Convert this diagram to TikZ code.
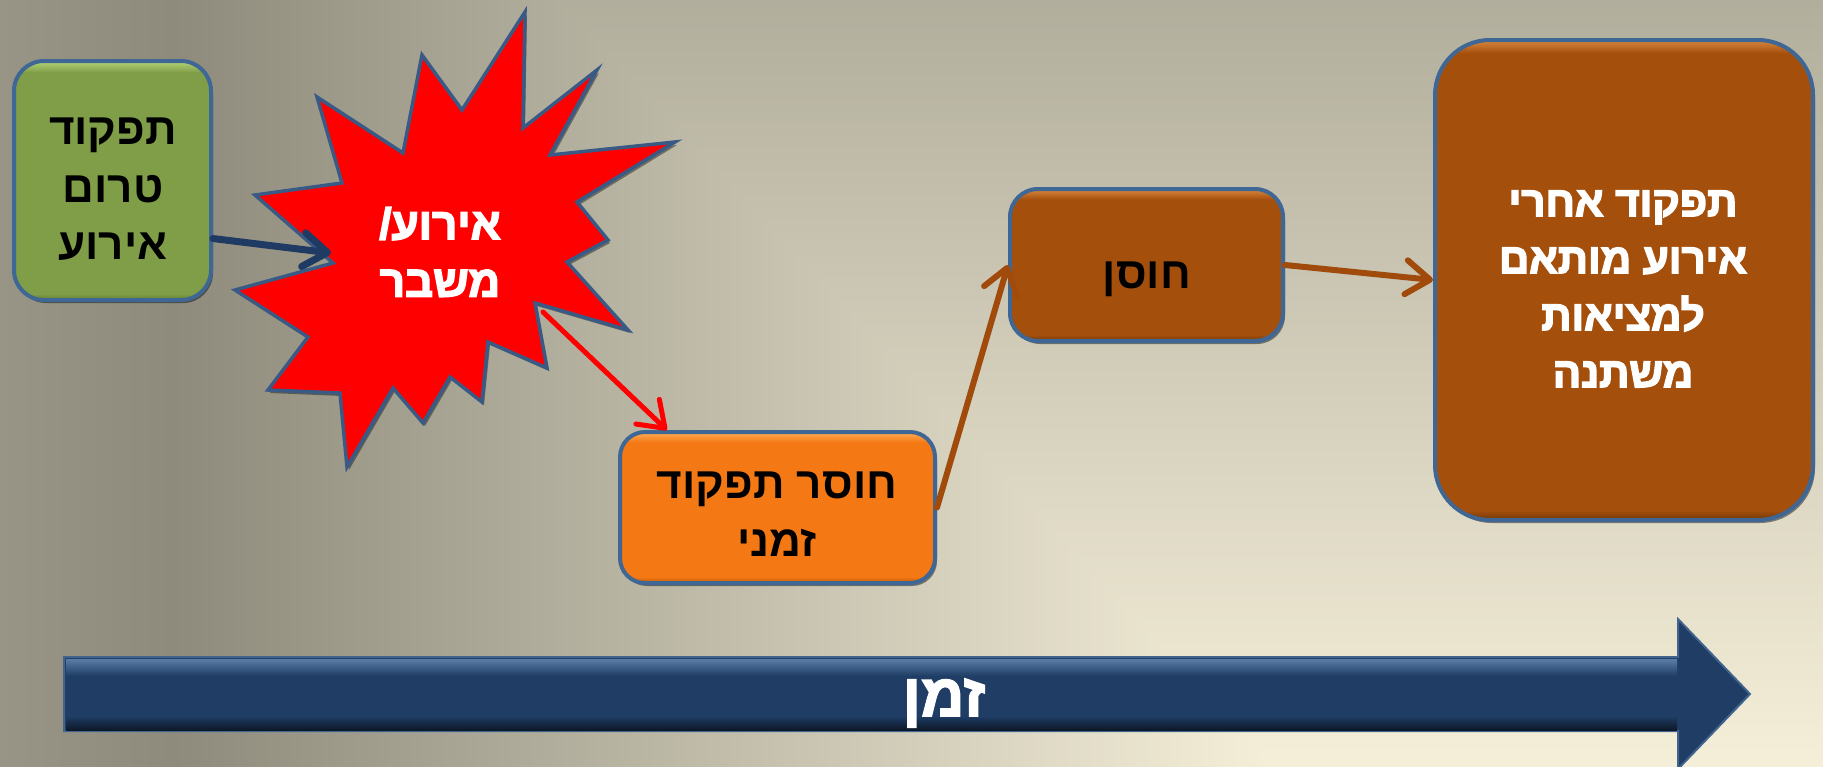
\documentclass[tikz,border=0pt]{standalone}
\usepackage{fontspec}
\newfontfamily\hebfont[Script=Hebrew]{Liberation Sans Bold}
\TeXXeTstate=1
\usetikzlibrary{arrows.meta,calc,shadows}
\newcommand\heb[1]{\beginR#1\endR}
\definecolor{bgD}{HTML}{8E8B7C}
\definecolor{bgL}{HTML}{F5EFD9}
\definecolor{bgE}{HTML}{989587}
\colorlet{bgT}{bgL!35!bgD}
\definecolor{bordc}{HTML}{3E6795}
\definecolor{gB}{HTML}{809E48}
\definecolor{gL}{HTML}{B4D477}
\definecolor{gD}{HTML}{62802F}
\definecolor{oB}{HTML}{F47813}
\definecolor{oL}{HTML}{FFAD55}
\definecolor{oD}{HTML}{C05A08}
\definecolor{bB}{HTML}{A44F0C}
\definecolor{bL}{HTML}{D8873F}
\definecolor{bD}{HTML}{733707}
\definecolor{starred}{HTML}{FF0000}
\definecolor{starbord}{HTML}{3A5A86}
\definecolor{bluearr}{HTML}{1F3A63}
\definecolor{brownarr}{HTML}{A04B0B}
\definecolor{bigarr}{HTML}{1F3D65}
\definecolor{bigarrhl}{HTML}{5A7DA6}
\definecolor{bigarrbd}{HTML}{41648F}
\pgfdeclarehorizontalshading{bgh}{100bp}{color(0bp)=(bgE); color(25bp)=(bgE); color(29.77bp)=(bgD); color(59.94bp)=(bgL); color(100bp)=(bgL)}
\pgfdeclareverticalshading{bgv}{100bp}{color(0bp)=(bgL); color(25bp)=(bgL); color(75bp)=(bgT); color(100bp)=(bgT)}
\pgfdeclareverticalshading{gsh}{100bp}{color(0bp)=(gD); color(25bp)=(gD); color(26.3bp)=(gB); color(72.6bp)=(gB); color(75bp)=(gL); color(100bp)=(gL)}
\pgfdeclareverticalshading{osh}{100bp}{color(0bp)=(oD); color(25bp)=(oD); color(27bp)=(oB); color(71.5bp)=(oB); color(75bp)=(oL); color(100bp)=(oL)}
\pgfdeclareverticalshading{bsh}{100bp}{color(0bp)=(bD); color(25bp)=(bD); color(27bp)=(bB); color(71.5bp)=(bB); color(75bp)=(bL); color(100bp)=(bL)}
\pgfdeclareverticalshading{bigsh}{100bp}{color(0bp)=(bD); color(25bp)=(bD); color(26bp)=(bB); color(73.6bp)=(bB); color(75bp)=(bL); color(100bp)=(bL)}
% white text slightly emboldened (white stroke over the fill)
\newcommand\wb[1]{\special{pdf:literal direct 2 Tr 1 G 1.5 w}\beginR#1\endR\special{pdf:literal direct 0 Tr}}
\begin{document}
\begin{tikzpicture}[x=1pt,y=-1pt,
  hfont/.style={font=\hebfont\fontsize{44}{57.5}\selectfont},
  boxbase/.style={draw=bordc, line width=4pt, inner sep=0pt,
    drop shadow={shadow xshift=2pt, shadow yshift=-3pt, fill=black, opacity=0.45}},
  greenbox/.style={boxbase, shade, shading=gsh, rounded corners=30pt, minimum width=197pt, minimum height=239pt},
  orangebox/.style={boxbase, shade, shading=osh, rounded corners=25pt, minimum width=315pt, minimum height=151pt},
  brownbox/.style={boxbase, shade, shading=bsh, rounded corners=28pt, minimum width=273pt, minimum height=152pt},
  bigbox/.style={boxbase, shade, shading=bigsh, rounded corners=55pt, minimum width=378pt, minimum height=480pt},
  btext/.style={hfont, align=center, inner sep=0pt, text=black},
  wtext/.style={hfont, align=center, inner sep=0pt, text=white},
  conn/.style={line cap=round, line join=round,
    -{Straight Barb[length=24pt,width=34pt,line cap=round,line join=round]}},
]
\useasboundingbox (0,0) rectangle (1823,766);
\clip (0,0) rectangle (1823,766);
% background
\shade[shading=bgh] (0,0) rectangle (1823,766);
\begin{scope}
  \clip (559,0) -- (1823,0) -- (1823,766) -- (1274,766) -- cycle;
  \shade[shading=bgv] (0,0) rectangle (1823,766);
\end{scope}
% time arrow
\draw[fill=bigarr, draw=bigarrbd, line width=2pt, line join=miter]
  (64,657) -- (1678,657) -- (1678,619) -- (1750,694) -- (1678,769) -- (1678,731) -- (64,731) -- cycle;
\shade[top color=bigarrhl, bottom color=bigarr] (66,659) rectangle (1677,676);
\shade[top color=bigarr, bottom color=black!60!bigarr] (66,716) rectangle (1677,730);
\node[wtext] (time) at (944,703) {\fontsize{60}{62}\selectfont\wb{זמן}};
% boxes
\node[greenbox] (pre) at (112.5,180.5) {};
\node[btext] (pretext) at (113,189.5) {\heb{תפקוד}\\\heb{טרום}\\\heb{אירוע}};
\node[orangebox] (loss) at (777.5,507.5) {};
\node[btext] (losstext) at (777,514) {\heb{חוסר תפקוד}\\\heb{זמני}};
\node[brownbox] (res) at (1146.5,265) {};
\node[btext] (restext) at (1147,279) {\heb{חוסן}};
\node[bigbox] (post) at (1624,280) {};
\node[wtext, font=\hebfont\fontsize{42}{57}\selectfont] (posttext) at (1623,289) {\wb{תפקוד אחרי}\\\wb{אירוע מותאם}\\\wb{למציאות}\\\wb{משתנה}};
% star
\draw[fill=starred, draw=starbord, line width=3.5pt, line join=miter,
  drop shadow={shadow xshift=2pt, shadow yshift=-3pt, fill=black, opacity=0.4}]
  (525,12) -- (523,128) -- (597,70) -- (550,155) -- (675,142) -- (577,202) -- (608,240)
  -- (567,262) -- (628,330) -- (535,303) -- (547,368) -- (488,342) -- (482,402) -- (450,377)
  -- (423,423) -- (393,388) -- (347,467) -- (340,393) -- (268,390) -- (308,337) -- (235,290)
  -- (333,263) -- (255,195) -- (342,183) -- (317,97) -- (403,153) -- (422,55) -- (462,110) -- cycle;
\node[wtext] (crisis) at (440,252) {\wb{אירוע/}\\\wb{משבר}};
\coordinate (starW) at (331,253);
\coordinate (starSE) at (543,312);
% connectors
\draw[conn, draw=bluearr, line width=7pt] (pre.-30) -- (starW);
\draw[conn, draw=starred, line width=5pt] (starSE) -- (loss.145.4);
\draw[conn, draw=brownarr, line width=6pt] (loss.east) -- (res.west);
\draw[conn, draw=brownarr, line width=6pt] (res.east) -- (post.west);
\end{tikzpicture}
\end{document}
